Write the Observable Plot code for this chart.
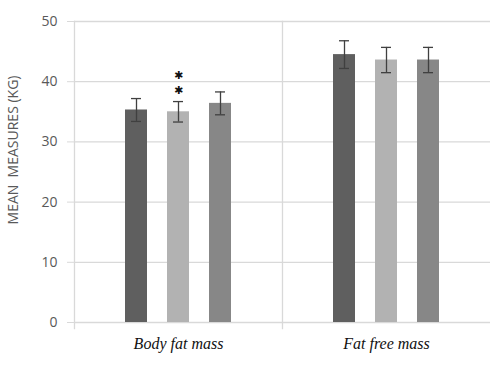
<!DOCTYPE html>
<html>
<head>
<meta charset="utf-8">
<script src="https://cdn.jsdelivr.net/npm/d3@7"></script>
<script src="https://cdn.jsdelivr.net/npm/@observablehq/plot@0.6"></script>
<style>
  html, body { margin: 0; padding: 0; background: #fff; }
  g[aria-label="y-label"] text { letter-spacing: 1.4px; }
</style>
</head>
<body>
<div id="chart"></div>
<script>
const categories = ["Body fat mass", "Fat free mass"];
const groups = ["Group 1", "Group 2", "Group 3"];
const means = [[35.3, 35.0, 36.4], [44.5, 43.6, 43.6]];
const errors = [[1.9, 1.7, 1.9], [2.3, 2.1, 2.1]];
const yTicks = [0, 10, 20, 30, 40, 50];
const significance = [{category: "Body fat mass", group: "Group 2", label: "**"}];
const yLabel = "MEAN  MEASURES (KG)";

const rows = categories.flatMap((c, i) => groups.map((g, j) => ({
  category: c, group: g, mean: means[i][j], err: errors[i][j]
})));
const sig = significance.map(s => {
  const r = rows.find(d => d.category === s.category && d.group === s.group);
  return {...s, top: r.mean + r.err};
});

const chart = Plot.plot({
  width: 490,
  height: 365,
  marginLeft: 73,
  marginRight: 0,
  marginTop: 21,
  marginBottom: 43,
  style: {fontFamily: "Open Sans", fontSize: "14px", background: "#fff", color: "#595959"},
  fx: {domain: categories, padding: 0, label: null},
  x: {domain: groups, paddingInner: 0.488, paddingOuter: 1.174, axis: null},
  y: {domain: [0, 50]},
  color: {domain: groups, range: ["#5f5f5f", "#b2b2b2", "#878787"]},
  marks: [
    Plot.gridY({ticks: yTicks, stroke: "#d9d9d9", strokeOpacity: 1, strokeWidth: 1.3}),
    Plot.frame({anchor: "left", stroke: "#d9d9d9", strokeWidth: 1.3, insetBottom: -6}),
    Plot.axisY({ticks: yTicks, tickSize: 7, tickPadding: 10, stroke: "#d9d9d9", fill: "#595959", label: null, fontSize: 14}),
    Plot.text([yLabel], {ariaLabel: "y-label", frameAnchor: "left", facetAnchor: "left", textAnchor: "middle", rotate: -90, dx: -61, dy: -22, fontSize: 14, fill: "#595959"}),
    Plot.axisFx({anchor: "bottom", tickSize: 0, tickPadding: 15, label: null, fontFamily: "Liberation Serif", fontStyle: "italic", fontSize: 16, fill: "#111"}),
    Plot.barY(rows, {fx: "category", x: "group", y: "mean", fill: "group"}),
    Plot.ruleX(rows, {fx: "category", x: "group", y1: d => d.mean - d.err, y2: d => d.mean + d.err, stroke: "#404040", strokeWidth: 1.3}),
    Plot.tickY(rows, {fx: "category", x: "group", y: d => d.mean + d.err, insetLeft: 6, insetRight: 6, stroke: "#404040", strokeWidth: 1.3}),
    Plot.tickY(rows, {fx: "category", x: "group", y: d => d.mean - d.err, insetLeft: 6, insetRight: 6, stroke: "#404040", strokeWidth: 1.3}),
    Plot.text(sig, {fx: "category", x: "group", y: "top", text: () => "\u2731", dy: -11, fontSize: 11, fill: "#111", fontFamily: "DejaVu Sans"}),
    Plot.text(sig, {fx: "category", x: "group", y: "top", text: () => "\u2731", dy: -26, fontSize: 11, fill: "#111", fontFamily: "DejaVu Sans"})
  ]
});
document.getElementById("chart").appendChild(chart);
</script>
</body>
</html>
